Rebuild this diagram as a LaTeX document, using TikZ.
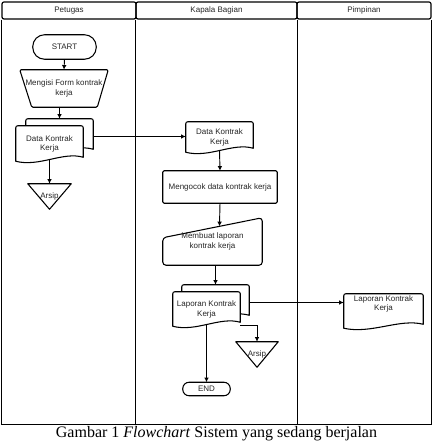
\documentclass[tikz,border=0pt]{standalone}
\usepackage{fontspec}
\setmainfont{Liberation Sans}
\newfontfamily\capfont{Liberation Serif}
\usetikzlibrary{calc,arrows.meta}
\pgfdeclarelayer{bg}
\pgfsetlayers{bg,main}
\newcommand\px[1]{#1*0.75pt}
\newcommand\lift[2]{\raisebox{#1}[0pt][0pt]{\begin{tabular}{@{}c@{}}#2\end{tabular}}}
\newcommand\docshape[1]{%
  \path[shp] ($(#1.south west)+(0,-1)$) [rounded corners=1.5pt]-- (#1.north west) -- (#1.north east) [sharp corners]-- ($(#1.south east)+(0,-5)$)
    .. controls ($(#1.south east)!0.3!(#1.south west)+(0,-11)$) and ($(#1.south east)!0.65!(#1.south west)+(0,5)$) .. ($(#1.south west)+(0,-1)$) -- cycle;}
\tikzset{
  shp/.style={draw=black, line width=0.8pt, fill=white, line join=round},
  txt/.style={font=\fontsize{6}{7}\selectfont, text=black!85, align=center, inner sep=0pt, draw=none},
  arr/.style={draw=black, line width=0.7pt, -{Latex[length=3.5pt,width=3.5pt]}},
  lane/.style={draw=black, line width=0.7pt},
  hdr/.style={draw=black, line width=0.9pt, rounded corners=1.5pt, font=\fontsize{6}{7}\selectfont, text=black!85, inner sep=0pt},
}
\begin{document}
\begin{tikzpicture}[x=0.75pt,y=-0.75pt]
\useasboundingbox (0,0) rectangle (433,445);
% headers
\node[hdr, minimum width=\px{134}, minimum height=\px{17}] (h1) at (69,10.5) {Petugas};
\node[hdr, minimum width=\px{161}, minimum height=\px{17}] (h2) at (216.5,10.5) {Kapala Bagian};
\node[hdr, minimum width=\px{134}, minimum height=\px{17}] (h3) at (364,10.5) {Pimpinan};
\coordinate (bot) at (0,424);
\draw[lane] (h1.south west) -- (h1.south west |- bot) -- (h3.south east |- bot) -- (h3.south east);
\draw[lane] (h2.south west) -- (h2.south west |- bot);
\draw[lane] (h2.south east) -- (h2.south east |- bot);
% nodes
\node[txt, minimum width=\px{63}, minimum height=\px{24}] (start) at (64.5,47) {START};
\node[txt, minimum width=\px{88}, minimum height=\px{37}] (form) at (64,88.5) {Mengisi Form kontrak\\kerja};
\node[txt, minimum width=\px{67}, minimum height=\px{35}] (dok1b) at (59.5,136.5) {};
\node[txt, minimum width=\px{67}, minimum height=\px{36}] (dok1) at (49.5,144) {Data Kontrak\\Kerja};
\node[txt, minimum width=\px{43}, minimum height=\px{25}] (arsip1) at (49.5,196.5) {Arsip};
\node[txt, minimum width=\px{67}, minimum height=\px{31}] (dok2) at (219.5,137.5) {Data Kontrak\\Kerja};
\node[txt, minimum width=\px{114}, minimum height=\px{32}] (cek) at (220,187) {Mengocok data kontrak kerja};
\node[txt, minimum width=\px{99}, minimum height=\px{47}] (buat) at (212.5,241.5) {Membuat laporan\\kontrak kerja};
\coordinate (buatnw) at ($(buat.north west)+(0,20)$);
\node[txt, minimum width=\px{67}, minimum height=\px{35}] (dok3b) at (215.5,302.5) {};
\node[txt, minimum width=\px{67}, minimum height=\px{35}] (dok3) at (206.5,309.5) {Laporan Kontrak\\Kerja};
\node[txt, minimum width=\px{42}, minimum height=\px{25}] (arsip2) at (257,354.5) {Arsip};
\node[txt, minimum width=\px{47}, minimum height=\px{13}] (end) at (206.5,389) {END};
\node[txt, minimum width=\px{79}, minimum height=\px{35}] (dok4) at (383.5,311.5) {\lift{3.8pt}{Laporan Kontrak\\Kerja}};
% shapes
\begin{pgfonlayer}{bg}
\path[shp, rounded corners=8.9pt] (start.south west) rectangle (start.north east);
\path[shp, rounded corners=1pt] (form.north west) -- (form.north east) -- ($(form.south east)+(-11,0)$) -- ($(form.south west)+(12,0)$) -- cycle;
\docshape{dok1b}
\docshape{dok1}
\path[shp] (arsip1.north west) -- (arsip1.north east) -- (arsip1.south) -- cycle;
\docshape{dok2}
\path[shp, rounded corners=1pt] (cek.south west) rectangle (cek.north east);
\path[shp, rounded corners=2.5pt] (buatnw) -- (buat.north east) -- (buat.south east) -- (buat.south west) -- cycle;
\docshape{dok3b}
\docshape{dok3}
\path[shp] (arsip2.north west) -- (arsip2.north east) -- (arsip2.south) -- cycle;
\path[shp, rounded corners=4.8pt] (end.south west) rectangle (end.north east);
\docshape{dok4}
\end{pgfonlayer}
% connectors
\draw[arr] (start.south) -- (form.north);
\draw[arr] (form.south -| dok1b.north) -- (dok1b.north);
\draw[arr] (dok1b.east) -- (dok1b.east -| dok2.west);
\draw[arr] ($(dok1.south)+(0,-3)$) -- (arsip1.north);
\draw[arr] ($(dok2.south)+(0,-3)$) -- (cek.north);
\draw[arr] (cek.south) -- ($(buatnw)!0.57!(buat.north east)$);
\draw[arr] (buat.south -| dok3b.north) -- (dok3b.north);
\draw[arr] (dok3b.east) -- (dok3b.east -| dok4.west);
\draw[arr] ($(dok3.south east)+(0,-2)$) -| (arsip2.north);
\draw[arr] ($(dok3.south)+(0,-3)$) -- (end.north);
% caption
\node[font=\capfont\fontsize{12}{14}\selectfont, inner sep=0pt] (cap) at (216.5,434) {Gambar 1 \textit{Flowchart} Sistem yang sedang berjalan};
\end{tikzpicture}
\end{document}
